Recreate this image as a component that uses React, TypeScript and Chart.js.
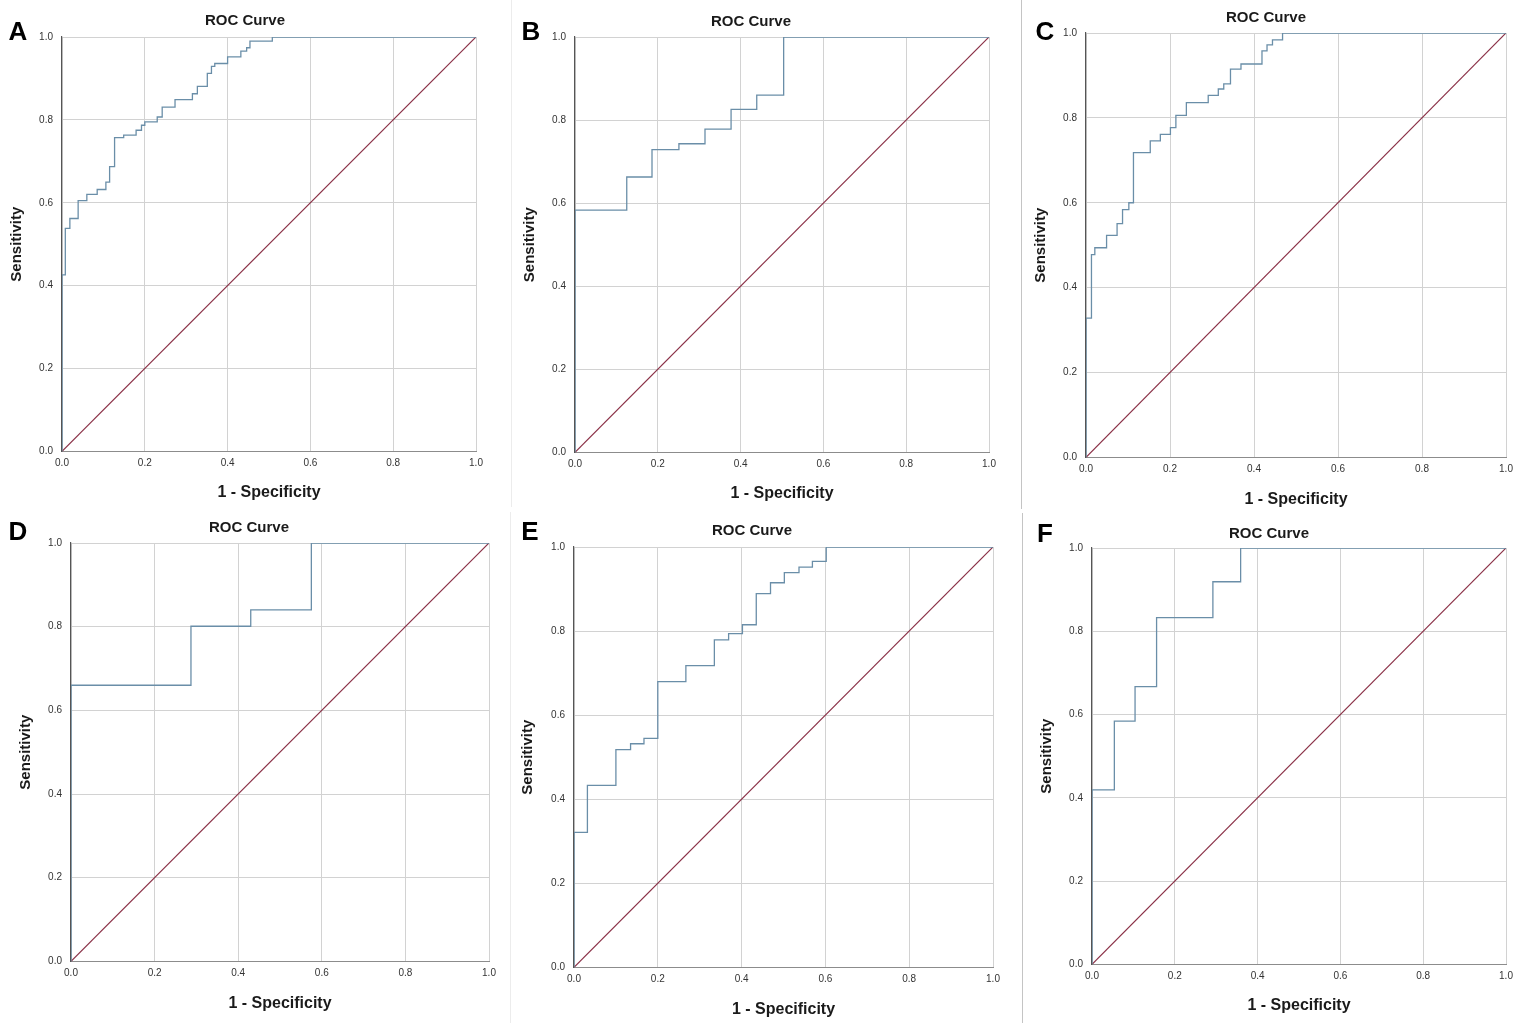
import React, { useEffect, useRef } from "react";
import { Chart, registerables } from "chart.js";

Chart.register(...registerables);

// ---------- data ----------
const tickValues = [0, 0.2, 0.4, 0.6, 0.8, 1.0];
const chartTitle = "ROC Curve";
const xAxisTitle = "1 - Specificity";
const yAxisTitle = "Sensitivity";
const panelLetters = ["A", "B", "C", "D", "E", "F"];

// Step-curve vertices: (1 - specificity, sensitivity) where each rise happens
const fprA = [0, 0, 0.008, 0.019, 0.039, 0.06, 0.085, 0.106, 0.115, 0.127, 0.149, 0.179, 0.192, 0.2, 0.23, 0.242, 0.273, 0.315, 0.327, 0.351, 0.361, 0.369, 0.4, 0.432, 0.446, 0.454, 0.508, 1.0];
const tprA = [0, 0.426, 0.538, 0.562, 0.605, 0.62, 0.632, 0.65, 0.687, 0.757, 0.763, 0.775, 0.787, 0.795, 0.807, 0.831, 0.849, 0.863, 0.881, 0.912, 0.929, 0.936, 0.952, 0.966, 0.974, 0.99, 1.0, 1.0];

const fprB = [0, 0, 0.125, 0.186, 0.251, 0.314, 0.377, 0.439, 0.504, 1.0];
const tprB = [0, 0.583, 0.663, 0.729, 0.743, 0.778, 0.826, 0.86, 1.0, 1.0];

const fprC = [0, 0, 0.013, 0.021, 0.049, 0.074, 0.087, 0.102, 0.113, 0.153, 0.177, 0.201, 0.214, 0.239, 0.291, 0.315, 0.328, 0.344, 0.369, 0.419, 0.431, 0.444, 0.468, 1.0];
const tprC = [0, 0.328, 0.478, 0.494, 0.523, 0.551, 0.584, 0.6, 0.718, 0.746, 0.761, 0.777, 0.806, 0.836, 0.853, 0.868, 0.88, 0.915, 0.927, 0.958, 0.972, 0.984, 1.0, 1.0];

const fprD = [0, 0, 0.287, 0.43, 0.575, 1.0];
const tprD = [0, 0.66, 0.801, 0.84, 1.0, 1.0];

const fprE = [0, 0, 0.032, 0.1, 0.135, 0.167, 0.2, 0.267, 0.335, 0.369, 0.402, 0.435, 0.469, 0.502, 0.537, 0.569, 0.602, 1.0];
const tprE = [0, 0.321, 0.433, 0.518, 0.532, 0.545, 0.68, 0.718, 0.779, 0.794, 0.815, 0.889, 0.915, 0.939, 0.952, 0.966, 1.0, 1.0];

const fprF = [0, 0, 0.054, 0.104, 0.156, 0.292, 0.359, 1.0];
const tprF = [0, 0.419, 0.584, 0.667, 0.833, 0.919, 1.0, 1.0];

const diagX = [0, 1];
const diagY = [0, 1];

// ---------- layout / style ----------
const FONT = "'Liberation Sans', Arial, Helvetica, sans-serif";
const CURVE = "#6a8ea8";
const DIAG = "#8a3046";
const GRID = "#d2d2d2";
const TICK = "#333333";

type Cfg = {
  L: number; R: number; T: number; B: number;
  cl: number; ct: number; padL: number; padR: number; axisLeft: number;
  titlePadBottom: number; xh: number; yTitlePad: number;
};

function mk(L: number, R: number, T: number, B: number, titleX: number, titleY: number, xTitleY: number, yTitleX: number): Cfg {
  const padR = 9;
  const axisLeft = 2 * titleX - R; // left of the title box
  const cl = Math.min(axisLeft, yTitleX - 12);
  const padL = axisLeft - cl;
  const ct = titleY - 9 - 4;
  return {
    L, R, T, B, cl, ct, padL, padR, axisLeft,
    titlePadBottom: T - (titleY + 9),
    xh: xTitleY - B + 9.6 + 2,
    yTitlePad: yTitleX - axisLeft - 9,
  };
}

const panels = [
  { letter: panelLetters[0], fpr: fprA, tpr: tprA, cfg: mk(62, 476, 37, 451, 245, 21, 492, 17), lx: 18, ly: 31 },
  { letter: panelLetters[1], fpr: fprB, tpr: tprB, cfg: mk(575, 989, 37, 452, 751, 22, 493, 530), lx: 531, ly: 31 },
  { letter: panelLetters[2], fpr: fprC, tpr: tprC, cfg: mk(1086, 1506, 33, 457, 1266, 18, 499, 1041), lx: 1045, ly: 31 },
  { letter: panelLetters[3], fpr: fprD, tpr: tprD, cfg: mk(71, 489, 543, 961, 249, 528, 1003, 26), lx: 18, ly: 531 },
  { letter: panelLetters[4], fpr: fprE, tpr: tprE, cfg: mk(574, 993, 547, 967, 752, 531, 1009, 528), lx: 530, ly: 531 },
  { letter: panelLetters[5], fpr: fprF, tpr: tprF, cfg: mk(1092, 1506, 548, 964, 1269, 534, 1005, 1047), lx: 1045, ly: 533 },
];

function RocPanel({ fpr, tpr, cfg }: { fpr: number[]; tpr: number[]; cfg: Cfg }) {
  const ref = useRef<HTMLCanvasElement>(null);
  const width = Math.round(cfg.R + cfg.padR - cfg.cl);
  const height = Math.round(cfg.B + cfg.xh - cfg.ct);

  useEffect(() => {
    const curve = fpr.map((x, i) => ({ x, y: tpr[i] }));
    const diag = diagX.map((x, i) => ({ x, y: diagY[i] }));
    const tickFont = { family: FONT, size: 10 };
    const chart = new Chart(ref.current as HTMLCanvasElement, {
      type: "line",
      data: {
        datasets: [
          { data: curve, borderColor: CURVE, borderWidth: 1.3, stepped: "before", pointRadius: 0, fill: false } as any,
          { data: diag, borderColor: DIAG, borderWidth: 1.2, pointRadius: 0, fill: false },
        ],
      },
      options: {
        responsive: false,
        animation: false,
        events: [],
        layout: { padding: { left: cfg.padL, right: cfg.padR, top: 0, bottom: 0 } },
        plugins: {
          legend: { display: false },
          tooltip: { enabled: false },
          title: {
            display: true,
            text: chartTitle,
            color: "#1a1a1a",
            font: { family: FONT, size: 15, weight: "bold", lineHeight: 1.2 },
            padding: { top: 4, bottom: cfg.titlePadBottom },
          },
        },
        scales: {
          x: {
            type: "linear",
            min: 0,
            max: 1,
            afterBuildTicks: (s: any) => { s.ticks = tickValues.map((v) => ({ value: v })); },
            ticks: { padding: 6, color: TICK, font: tickFont, maxRotation: 0, autoSkip: false, callback: (v: any) => Number(v).toFixed(1) },
            grid: { color: GRID, drawTicks: false, lineWidth: 1 },
            border: { color: "#8c8c8c", width: 1 },
            title: {
              display: true, text: xAxisTitle, color: "#1a1a1a",
              font: { family: FONT, size: 16, weight: "bold", lineHeight: 1.2 },
              padding: { top: 0, bottom: 2 },
            },
            afterFit: (s: any) => { s.height = cfg.xh; s.paddingLeft = 0; s.paddingRight = 0; },
          },
          y: {
            type: "linear",
            min: 0,
            max: 1,
            afterBuildTicks: (s: any) => { s.ticks = tickValues.map((v) => ({ value: v })); },
            ticks: { padding: 9, color: TICK, font: tickFont, autoSkip: false, callback: (v: any) => Number(v).toFixed(1) },
            grid: { color: GRID, drawTicks: false, lineWidth: 1 },
            border: { color: "#555555", width: 1.2 },
            title: {
              display: true, text: yAxisTitle, color: "#1a1a1a",
              font: { family: FONT, size: 15, weight: "bold", lineHeight: 1.2 },
              padding: { top: cfg.yTitlePad, bottom: 0 },
            },
            afterFit: (s: any) => { s.width = cfg.L - cfg.axisLeft; s.paddingTop = 0; s.paddingBottom = 0; },
          },
        },
      } as any,
    });
    return () => chart.destroy();
  }, []);

  return (
    <canvas
      ref={ref}
      width={width}
      height={height}
      style={{ position: "absolute", left: cfg.cl, top: cfg.ct, width, height }}
    />
  );
}

export default function App() {
  return (
    <div style={{ position: "absolute", left: 0, top: 0, width: 1535, height: 1023, background: "#ffffff", overflow: "hidden", fontFamily: FONT }}>
      {/* panel separators */}
      <div style={{ position: "absolute", left: 511, top: 0, width: 1, height: 507, background: "#ececec" }} />
      <div style={{ position: "absolute", left: 510, top: 512, width: 1, height: 511, background: "#ececec" }} />
      <div style={{ position: "absolute", left: 1021, top: 0, width: 1, height: 509, background: "#c4c4c4" }} />
      <div style={{ position: "absolute", left: 1022, top: 513, width: 1, height: 510, background: "#c4c4c4" }} />
      {panels.map((p) => (
        <RocPanel key={p.letter} fpr={p.fpr} tpr={p.tpr} cfg={p.cfg} />
      ))}
      {panels.map((p) => (
        <div
          key={"l" + p.letter}
          style={{
            position: "absolute", left: p.lx, top: p.ly, transform: "translate(-50%, -50%)",
            fontFamily: FONT, fontWeight: "bold", fontSize: 26, color: "#000", lineHeight: 1,
          }}
        >
          {p.letter}
        </div>
      ))}
    </div>
  );
}
